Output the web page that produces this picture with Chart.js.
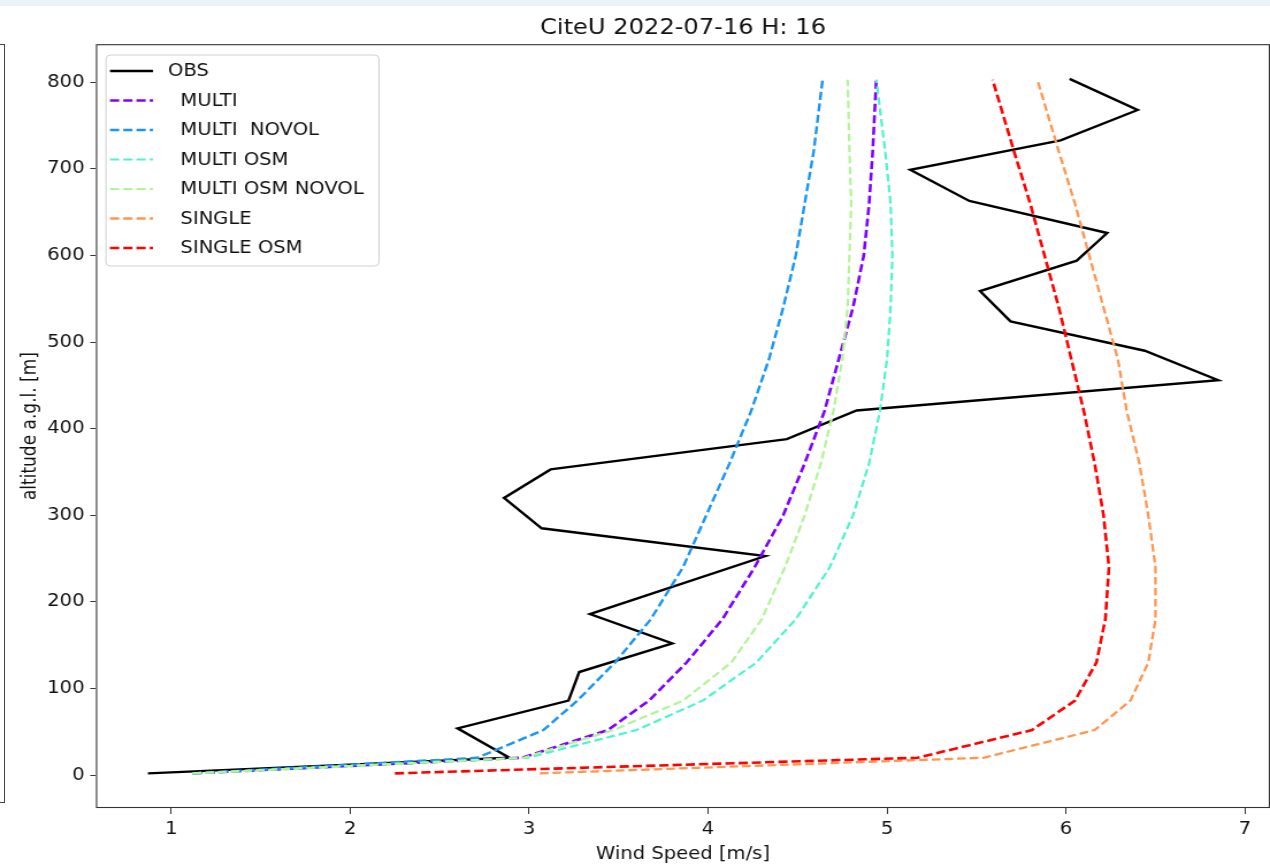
<!DOCTYPE html>
<html><head><meta charset="utf-8">
<script src="https://cdn.jsdelivr.net/npm/chart.js@4.4.0/dist/chart.umd.min.js"></script>
<style>
html,body{margin:0;padding:0;background:#fff;overflow:hidden}
#wrap{position:relative;width:1270px;height:866px;overflow:hidden}
#stretch{position:absolute;left:0;top:0;width:1104px;height:866px;transform:scaleX(1.15036);transform-origin:0 0}
#strip{position:absolute;left:0;top:0;width:1270px;height:6px;background:#eaf3f8}
#side{position:absolute;left:-10px;top:44px;width:13px;height:757px;border:1px solid #444}
canvas{display:block}
</style></head><body>
<div id="wrap"><div id="stretch"><canvas id="c" width="1104" height="866" style="width:1104px;height:866px"></canvas></div><div id="strip"></div><div id="side"></div></div>
<script>
// ---- data ----
const titleText = 'CiteU 2022-07-16 H: 16';
const xTitle = 'Wind Speed [m/s]';
const yTitle = 'altitude a.g.l. [m]';
const xTicks = [1, 2, 3, 4, 5, 6, 7];
const yTicks = [0, 100, 200, 300, 400, 500, 600, 700, 800];

const obsAlt = [2, 20, 54, 86, 119, 152, 186, 253, 285, 320, 353, 388, 421, 456, 490, 524, 559, 594, 626, 663, 699, 733, 768, 804];
const obsSpeed = [0.87, 2.89, 2.60, 3.22, 3.28, 3.80, 3.34, 4.32, 3.07, 2.86, 3.12, 4.44, 4.83, 6.85, 6.44, 5.69, 5.52, 6.06, 6.23, 5.46, 5.13, 5.97, 6.40, 6.02];

const modelAlt = [2, 20, 52, 86, 130, 180, 240, 300, 360, 420, 480, 540, 600, 660, 720, 803];
const multi          = [1.12, 2.96, 3.44, 3.67, 3.88, 4.08, 4.26, 4.42, 4.54, 4.65, 4.73, 4.81, 4.87, 4.90, 4.92, 4.94];
const multiNovol     = [1.12, 2.71, 3.08, 3.27, 3.48, 3.68, 3.86, 3.99, 4.12, 4.24, 4.34, 4.42, 4.49, 4.54, 4.59, 4.64];
const multiOsm       = [1.12, 2.99, 3.60, 3.97, 4.27, 4.49, 4.68, 4.81, 4.90, 4.96, 5.00, 5.02, 5.03, 5.02, 4.99, 4.94];
const multiOsmNovol  = [1.12, 2.97, 3.47, 3.86, 4.13, 4.30, 4.43, 4.54, 4.63, 4.70, 4.75, 4.78, 4.79, 4.80, 4.79, 4.78];
const single         = [3.06, 5.54, 6.16, 6.36, 6.46, 6.50, 6.50, 6.46, 6.41, 6.34, 6.29, 6.21, 6.13, 6.05, 5.96, 5.84];
const singleOsm      = [2.25, 5.17, 5.81, 6.05, 6.17, 6.22, 6.24, 6.21, 6.16, 6.10, 6.03, 5.96, 5.88, 5.80, 5.71, 5.59];

const seriesLabels = ['OBS', '  MULTI', '  MULTI  NOVOL', '  MULTI OSM', '  MULTI OSM NOVOL', '  SINGLE', '  SINGLE OSM'];
const seriesColors = ['#000000', '#8000ff', '#1996f3', '#4df3ce', '#b2f396', '#ff964f', '#ff0000'];

// ---- build ----
const pts = (xs, ys) => xs.map((v, i) => ({x: v, y: ys[i]}));
const seriesData = [pts(obsSpeed, obsAlt), pts(multi, modelAlt), pts(multiNovol, modelAlt), pts(multiOsm, modelAlt),
  pts(multiOsmNovol, modelAlt), pts(single, modelAlt), pts(singleOsm, modelAlt)];
const widths = [2.4, 2.6, 2.4, 2.2, 2.2, 2.3, 2.6];
const dashes = [[], [8, 3.5], [8, 3.5], [7.5, 3.5], [7.5, 3.5], [7.5, 3.5], [8, 3.5]];

const datasets = seriesData.map((d, i) => ({
  label: seriesLabels[i], data: d, showLine: true, borderColor: seriesColors[i], backgroundColor: seriesColors[i],
  borderWidth: widths[i], borderDash: dashes[i], pointRadius: 0, pointHoverRadius: 0, fill: false, tension: 0,
  order: -i
}));

const FONT = 'DejaVu Sans';
const SX = 1.15036; // horizontal stretch of the reference

const framePlugin = {
  id: 'frame',
  afterDatasetsDraw(chart) {
    const {ctx, chartArea: a} = chart;
    ctx.save();
    ctx.strokeStyle = '#333';
    ctx.lineWidth = 1.1;
    ctx.strokeRect(a.left + 0.5, a.top + 0.5, a.right - a.left - 1, a.bottom - a.top - 1);
    ctx.restore();
  }
};

const legendPlugin = {
  id: 'inlegend',
  afterDatasetsDraw(chart) {
    const {ctx} = chart;
    const x0 = 106 / SX, y0 = 55, w = 273 / SX, h = 211, r = 4;
    ctx.save();
    ctx.beginPath();
    ctx.moveTo(x0 + r, y0); ctx.lineTo(x0 + w - r, y0); ctx.quadraticCurveTo(x0 + w, y0, x0 + w, y0 + r);
    ctx.lineTo(x0 + w, y0 + h - r); ctx.quadraticCurveTo(x0 + w, y0 + h, x0 + w - r, y0 + h);
    ctx.lineTo(x0 + r, y0 + h); ctx.quadraticCurveTo(x0, y0 + h, x0, y0 + h - r);
    ctx.lineTo(x0, y0 + r); ctx.quadraticCurveTo(x0, y0, x0 + r, y0); ctx.closePath();
    ctx.fillStyle = 'rgba(255,255,255,0.8)'; ctx.fill();
    ctx.strokeStyle = '#d0d0d0'; ctx.lineWidth = 1; ctx.stroke();
    ctx.font = '17px "' + FONT + '"';
    ctx.textBaseline = 'middle';
    ctx.textAlign = 'left';
    chart.data.datasets.forEach((ds, i) => {
      const yy = 71 + i * 29.5;
      ctx.beginPath();
      ctx.setLineDash(ds.borderDash.length ? [8, 3.5] : []);
      ctx.strokeStyle = ds.borderColor; ctx.lineWidth = ds.borderWidth;
      ctx.moveTo(110 / SX, yy); ctx.lineTo(153 / SX, yy); ctx.stroke();
      ctx.setLineDash([]);
      ctx.fillStyle = '#111';
      ctx.fillText(ds.label, 168 / SX, yy + 1);
    });
    ctx.restore();
  }
};

new Chart(document.getElementById('c'), {
  type: 'scatter',
  data: {datasets},
  options: {
    responsive: false, animation: false, devicePixelRatio: 1,
    layout: {padding: {left: 0, right: 0, top: 0, bottom: 0}},
    plugins: {
      legend: {display: false}, tooltip: {enabled: false},
      title: {display: true, fullSize: false, text: titleText, color: '#111', font: {family: FONT, size: 21, weight: 'normal'}, padding: {top: 16, bottom: 3}}
    },
    scales: {
      x: {
        type: 'linear', min: 0.58, max: 7.14,
        afterBuildTicks: s => { s.ticks = xTicks.map(v => ({value: v})); },
        afterFit: s => { s.height = 58; },
        grid: {display: true, drawOnChartArea: false, drawTicks: true, tickLength: 6, color: '#333'},
        border: {display: false},
        ticks: {color: '#111', font: {family: FONT, size: 17}, padding: 5, callback: v => String(v), maxRotation: 0},
        title: {display: true, text: xTitle, color: '#111', font: {family: FONT, size: 17}, padding: {top: 0, bottom: 1}}
      },
      y: {
        type: 'linear', min: -38, max: 844,
        afterBuildTicks: s => { s.ticks = yTicks.map(v => ({value: v})); },
        afterFit: s => { s.width = 96 / SX; },
        grid: {display: true, drawOnChartArea: false, drawTicks: true, tickLength: 5, color: '#333'},
        border: {display: false},
        ticks: {color: '#111', font: {family: FONT, size: 17}, padding: 5, callback: v => String(v)},
        title: {display: true, text: yTitle, color: '#111', font: {family: FONT, size: 17}, padding: {top: 16, bottom: 0}}
      }
    }
  },
  plugins: [framePlugin, legendPlugin]
});
</script>
</body></html>
